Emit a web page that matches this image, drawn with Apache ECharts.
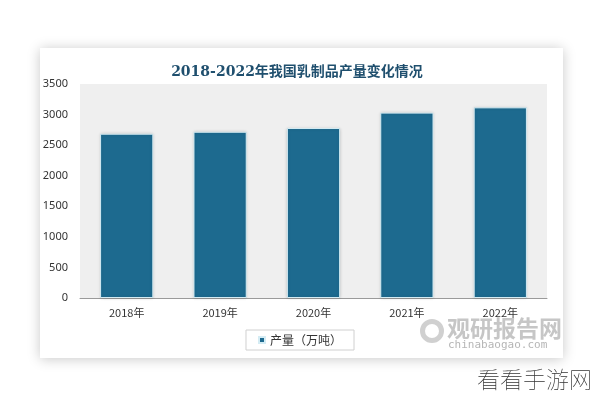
<!DOCTYPE html>
<html>
<head>
<meta charset="utf-8">
<script src="https://cdn.jsdelivr.net/npm/echarts@6/dist/echarts.min.js"></script>
<style>html,body{margin:0;padding:0;background:#fff;}#c{width:600px;height:400px;}</style>
</head>
<body>
<div id="c"></div>
<script>
var titleText = '2018-2022年我国乳制品产量变化情况';
var categories = ['2018年', '2019年', '2020年', '2021年', '2022年'];
var seriesName = '产量（万吨）';
var outputValues = [2687, 2719, 2780, 3032, 3118];
var yTicks = [0, 500, 1000, 1500, 2000, 2500, 3000, 3500];

var chart = echarts.init(document.getElementById('c'));
chart.setOption({
  backgroundColor: '#ffffff',
  animation: false,
  title: {
    text: titleText,
    left: 292, top: 60, textAlign: 'center',
    textStyle: { fontFamily: '"DejaVu Serif", "Noto Sans CJK SC", serif', fontWeight: 'bold', fontSize: 14, color: '#1f4f6e' }
  },
  graphic: [
    { type: 'rect', z: -100, shape: { x: 40, y: 48, width: 523, height: 310 },
      style: { fill: '#ffffff', shadowBlur: 12, shadowColor: 'rgba(0,0,0,0.22)', shadowOffsetX: 0, shadowOffsetY: 1 } },
    { type: 'ring', z: 50, shape: { cx: 432, cy: 331, r: 12, r0: 7 }, style: { fill: 'rgba(170,170,170,0.55)' } },
    { type: 'text', z: 50, style: { x: 447, y: 317, text: '观研报告网', fontSize: 23, fontWeight: 'bold', fontFamily: '"Noto Sans CJK SC"', fill: 'rgba(160,160,160,0.6)' } },
    { type: 'text', z: 50, style: { x: 448, y: 340, text: 'chinabaogao.com', fontSize: 11, fontFamily: '"DejaVu Sans Mono", monospace', fill: 'rgba(150,150,150,0.7)' } },
    { type: 'text', z: 50, style: { x: 477, y: 368, text: '看看手游网', fontSize: 23, fontWeight: 'lighter', fontFamily: '"Noto Sans CJK SC"', fill: '#333333' } }
  ],
  legend: {
    data: [seriesName],
    left: 'center', top: 330,
    icon: 'rect', itemWidth: 6, itemHeight: 6, itemGap: 4,
    borderColor: '#d0d0d0', borderWidth: 1, borderRadius: 0,
    padding: [4, 12, 4, 12],
    textStyle: { fontSize: 12, color: '#333', fontFamily: '"Noto Sans CJK SC", sans-serif' }
  },
  grid: {
    left: 80, right: 53, top: 84, bottom: 102,
    show: true, backgroundColor: '#efefef', borderWidth: 0
  },
  xAxis: {
    type: 'category', data: categories,
    axisLine: { show: true, lineStyle: { color: '#9a9a9a', width: 1 } },
    axisTick: { show: false },
    axisLabel: { fontSize: 11, color: '#333', margin: 9, fontFamily: '"Noto Sans CJK SC", sans-serif' }
  },
  yAxis: {
    type: 'value', min: yTicks[0], max: yTicks[yTicks.length - 1], interval: 500,
    axisLine: { show: false }, axisTick: { show: false },
    splitLine: { show: false },
    axisLabel: { fontSize: 11, color: '#333', margin: 12, fontFamily: '"Noto Sans", sans-serif',
      formatter: function (v) { return String(v); } }
  },
  series: [{
    name: seriesName, type: 'bar', data: outputValues,
    barCategoryGap: '43%',
    itemStyle: { color: '#1d6a8f', borderColor: '#d4ecf4', borderWidth: 1, shadowBlur: 3, shadowColor: 'rgba(0,0,0,0.15)' }
  }]
});
</script>
</body>
</html>
